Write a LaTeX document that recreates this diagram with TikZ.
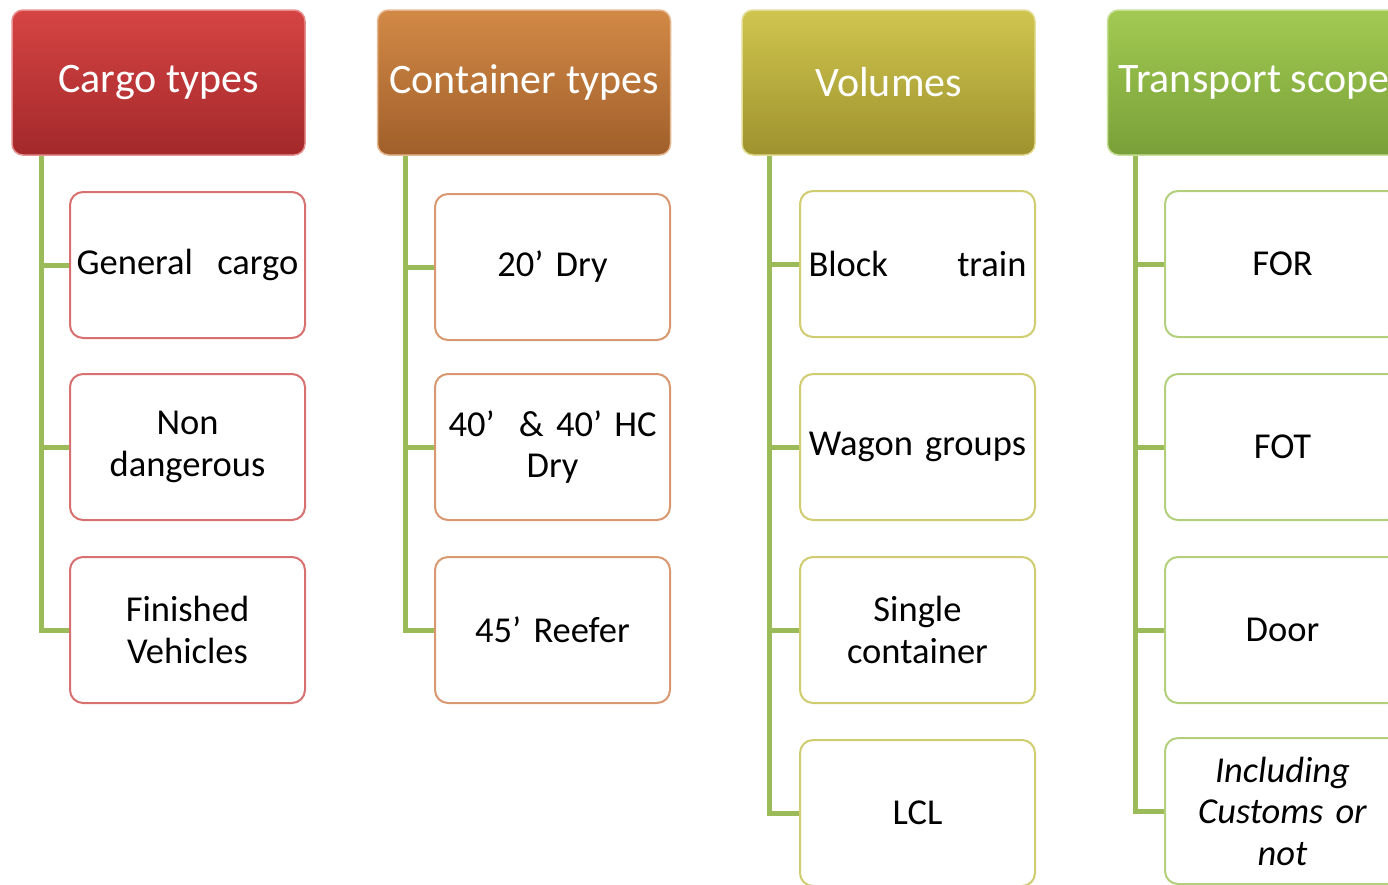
\documentclass[tikz,border=0pt]{standalone}
\usepackage{fontspec}
\setmainfont{Carlito}
\definecolor{conncol}{RGB}{155,187,89}
\definecolor{redT}{RGB}{214,68,68}
\definecolor{redB}{RGB}{163,40,42}
\definecolor{orgT}{RGB}{210,137,70}
\definecolor{orgB}{RGB}{160,95,42}
\definecolor{olvT}{RGB}{207,197,78}
\definecolor{olvB}{RGB}{158,146,46}
\definecolor{grnT}{RGB}{162,202,82}
\definecolor{grnB}{RGB}{120,160,56}
\definecolor{redL}{RGB}{216,112,112}
\definecolor{orgL}{RGB}{216,152,112}
\definecolor{olvL}{RGB}{208,204,112}
\definecolor{grnL}{RGB}{178,208,124}
\tikzset{
  head/.style={rounded corners=11pt, minimum width=293pt, minimum height=145pt,
    inner sep=0pt, text=white, font=\fontsize{42}{48}\selectfont, line width=1.5pt},
  kid/.style={rounded corners=13pt, minimum width=235pt, minimum height=146pt,
    inner sep=0pt, fill=white, line width=2pt, align=center, text width=230pt,
    font=\fontsize{36.5}{41.5}\selectfont},
  conn/.style={draw=conncol, line width=5pt}
}
\begin{document}
\begin{tikzpicture}[x=1pt,y=-1pt]
\useasboundingbox (0,0) rectangle (1388,884);
\clip (0,0) rectangle (1388,884);
\fill[white] (0,0) rectangle (1388,884);
% headers
\node[head, top color=redT, bottom color=redB, draw=redT!60!white] (h1) at (158.5,82.5) {Cargo types};
\node[head, top color=orgT, bottom color=orgB, draw=orgT!60!white] (h2) at (524,82.5) {Container types};
\node[head, top color=olvT, bottom color=olvB, draw=olvT!60!white] (h3) at (888.5,82.5) {Volumes};
\node[head, top color=grnT, bottom color=grnB, draw=grnT!60!white] (h4) at (1254,82.5) {Transport scope};
% column 1
\node[kid, draw=redL] (a1) at (187.5,265) {General\ \ cargo};
\node[kid, draw=redL] (a2) at (187.5,447) {Non\\dangerous};
\node[kid, draw=redL] (a3) at (187.5,630) {Finished\\Vehicles};
% column 2
\node[kid, draw=orgL] (b1) at (552.5,267) {20’ Dry};
\node[kid, draw=orgL] (b2) at (552.5,447) {40’\ \ \& 40’ HC\\Dry};
\node[kid, draw=orgL] (b3) at (552.5,630) {45’ Reefer};
% column 3
\node[kid, draw=olvL] (c1) at (917.5,264) {\makebox[218pt]{Block\hfill train}};
\node[kid, draw=olvL] (c2) at (917.5,447) {Wagon groups};
\node[kid, draw=olvL] (c3) at (917.5,630) {Single\\container};
\node[kid, draw=olvL] (c4) at (917.5,813) {LCL};
% column 4
\node[kid, draw=grnL] (d1) at (1282.5,264) {FOR};
\node[kid, draw=grnL] (d2) at (1282.5,447) {FOT};
\node[kid, draw=grnL] (d3) at (1282.5,630) {Door};
\node[kid, draw=grnL, font=\fontsize{36.5}{41.5}\selectfont\itshape] (d4) at (1282.5,811) {Including\\Customs or\\not};
% connectors
\coordinate (t1) at ([xshift=30pt]h1.south west);
\coordinate (t2) at ([xshift=29pt]h2.south west);
\coordinate (t3) at ([xshift=28pt]h3.south west);
\coordinate (t4) at ([xshift=29pt]h4.south west);
\draw[conn] (t1) |- (a3.west);
\draw[conn] (t1 |- a1.west) -- (a1.west);
\draw[conn] (t1 |- a2.west) -- (a2.west);
\draw[conn] (t2) |- (b3.west);
\draw[conn] (t2 |- b1.west) -- (b1.west);
\draw[conn] (t2 |- b2.west) -- (b2.west);
\draw[conn] (t3) |- (c4.west);
\draw[conn] (t3 |- c1.west) -- (c1.west);
\draw[conn] (t3 |- c2.west) -- (c2.west);
\draw[conn] (t3 |- c3.west) -- (c3.west);
\draw[conn] (t4) |- (d4.west);
\draw[conn] (t4 |- d1.west) -- (d1.west);
\draw[conn] (t4 |- d2.west) -- (d2.west);
\draw[conn] (t4 |- d3.west) -- (d3.west);
\end{tikzpicture}
\end{document}
